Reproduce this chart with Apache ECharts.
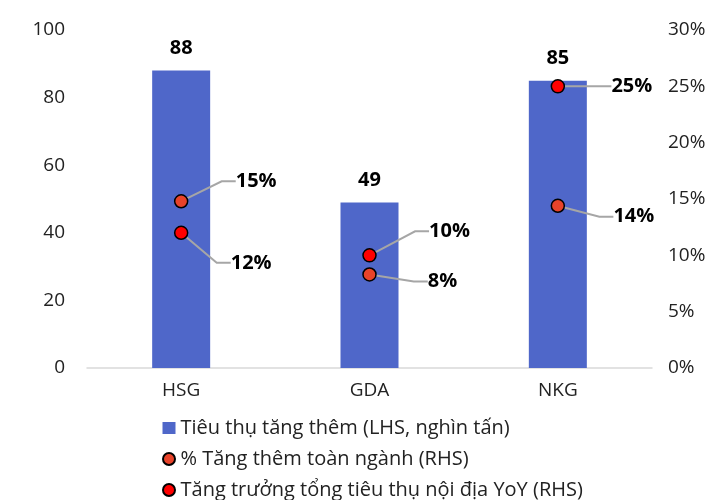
<!DOCTYPE html>
<html>
	<head>
		<meta charset="utf-8">
		<title>Tiêu thụ tăng thêm</title>
		<script src="https://cdn.jsdelivr.net/npm/echarts@6/dist/echarts.min.js"></script>
		<style>
			html, body { margin: 0; padding: 0; background: #fff; }
		</style>
	</head>
	<body>
		<div id="main" style="width: 728px;height:500px;"></div>
		<script type="text/javascript">
			// dữ liệu
			var categories = ['HSG', 'GDA', 'NKG'];
			var addedVolume = [88, 49, 85];          // nghìn tấn (LHS)
			var industryShare = [14.8, 8.3, 14.4];   // % Tăng thêm toàn ngành (RHS)
			var domesticYoY = [12, 10, 25];          // Tăng trưởng tổng tiêu thụ nội địa YoY (RHS)
			var leftTicks = [0, 20, 40, 60, 80, 100];
			var rightTicks = [0, 5, 10, 15, 20, 25, 30];

			var names = [
				'Tiêu thụ tăng thêm (LHS, nghìn tấn)',
				'% Tăng thêm toàn ngành (RHS)',
				'Tăng trưởng tổng tiêu thụ nội địa YoY (RHS)'
			];

			// vị trí nhãn (dx, dy) so với tâm điểm
			var shareOffsets = [[75, -20], [73, 7], [76, 11]];
			var yoyOffsets = [[70, 30], [80, -24], [74, 0]];

			var font = 'Open Sans';

			var myChart = echarts.init(document.getElementById('main'));

			function pointLabel() {
				return {
					show: true,
					position: 'inside',
					fontFamily: font,
					fontSize: 20,
					fontWeight: 'bold',
					color: '#000',
					formatter: function (p) { return Math.round(p.value) + '%'; }
				};
			}

			var option = {
				animation: false,
				grid: { left: 87, right: 76, top: 30, bottom: 132 },
				legend: {
					orient: 'vertical',
					left: 157,
					top: 413,
					height: 95,
					itemGap: 11,
					itemWidth: 13,
					itemHeight: 12,
					textStyle: { fontFamily: font, fontSize: 20, color: '#222' },
					data: [
						{ name: names[0], icon: 'rect', itemStyle: { borderWidth: 0 } },
						{ name: names[1], icon: 'circle', itemStyle: { borderColor: '#000', borderWidth: 2 } },
						{ name: names[2], icon: 'circle', itemStyle: { borderColor: '#000', borderWidth: 2 } }
					]
				},
				xAxis: {
					type: 'category',
					data: categories,
					axisLine: { lineStyle: { color: '#d9d9d9', width: 1.5 } },
					axisTick: { show: false },
					axisLabel: { fontFamily: font, fontSize: 19, color: '#222', margin: 13 }
				},
				yAxis: [
					{
						type: 'value',
						min: 0, max: leftTicks[leftTicks.length - 1], interval: 20,
						splitLine: { show: false },
						axisLabel: { fontFamily: font, fontSize: 19, color: '#222', margin: 22 }
					},
					{
						type: 'value',
						min: 0, max: rightTicks[rightTicks.length - 1], interval: 5,
						splitLine: { show: false },
						axisLabel: {
							fontFamily: font, fontSize: 19, color: '#222', margin: 16,
							formatter: '{value}%'
						}
					}
				],
				series: [
					{
						name: names[0],
						type: 'bar',
						data: addedVolume,
						barWidth: 58,
						itemStyle: { color: '#4F67C9' },
						label: {
							show: true,
							position: 'top',
							distance: 12,
							fontFamily: font,
							fontSize: 20,
							fontWeight: 'bold',
							color: '#000'
						}
					},
					{
						name: names[1],
						type: 'scatter',
						yAxisIndex: 1,
						data: industryShare,
						symbolSize: 13,
						itemStyle: { color: '#E8432A', borderColor: '#000', borderWidth: 1.5, opacity: 1 },
						label: pointLabel(),
						labelLine: { show: true, length2: 14, lineStyle: { color: '#a6a6a6', width: 2 } },
						labelLayout: function (p) {
							var o = shareOffsets[p.dataIndex];
							return { dx: o[0], dy: o[1] };
						}
					},
					{
						name: names[2],
						type: 'scatter',
						yAxisIndex: 1,
						data: domesticYoY,
						symbolSize: 13,
						itemStyle: { color: '#FF0000', borderColor: '#000', borderWidth: 1.5, opacity: 1 },
						label: pointLabel(),
						labelLine: { show: true, length2: 14, lineStyle: { color: '#a6a6a6', width: 2 } },
						labelLayout: function (p) {
							var o = yoyOffsets[p.dataIndex];
							return { dx: o[0], dy: o[1] };
						}
					}
				]
			};

			myChart.setOption(option);
		</script>
	</body>
</html>
